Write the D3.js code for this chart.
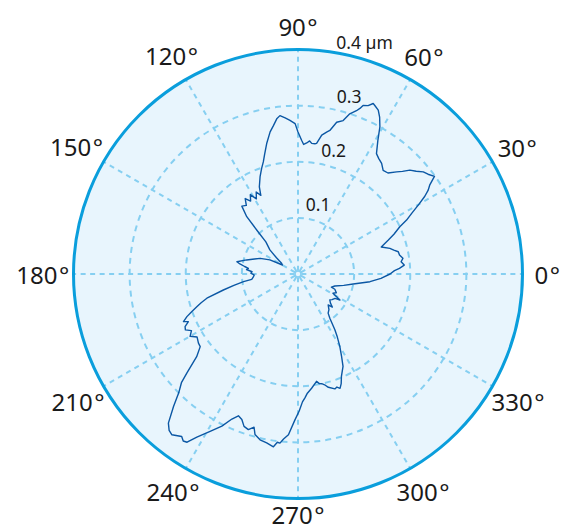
<!DOCTYPE html>
<html>
<head>
<meta charset="utf-8">
<script src="https://cdn.jsdelivr.net/npm/d3@7"></script>
<style>
  html, body { margin: 0; padding: 0; background: #ffffff; }
  svg { display: block; }
</style>
</head>
<body>
<svg id="chart" width="568" height="531"></svg>
<script>
// Polar trace: angle in degrees (counter-clockwise from east), radius in µm
const thetaDeg = [
  0, 2, 3.2, 4.8, 6.8, 8.5, 10.6, 12.5, 14, 15.6, 18, 20.6, 22.5, 24.9, 26.4, 28,
  30, 31.5, 32.8, 34, 35.6, 37.5, 39.2, 41, 42.9, 44.5, 46, 48.3, 50.6, 52.9, 55, 56.9,
  59.1, 60.9, 62.5, 63.9, 65.5, 66.2, 67.4, 68.9, 69.5, 70.3, 72.1, 73.6, 75.7, 77.5, 78.6, 80.3,
  81.9, 82.6, 84, 85, 86.2, 87.5, 88.4, 90, 91.1, 93, 94.7, 96.5, 97.8, 99.4, 101.1, 103.5,
  105.5, 107.2, 109, 111.3, 113.9, 115.3, 117, 119, 121, 123, 125, 127, 129.6, 131.8, 133.2, 135,
  139.4, 143, 146.7, 150, 153.4, 157.5, 161, 164.7, 168.7, 170.2, 172, 173.5, 175, 177.2, 179, 181.3,
  184, 186.6, 188, 190, 192.1, 194.9, 196.5, 197.9, 199.5, 201, 202.6, 203.5, 205, 206.4, 208, 210,
  212, 214.8, 216.6, 219.2, 221.7, 223, 224.9, 226.8, 229, 230.5, 231.9, 234.4, 235.5, 236.6, 238.2, 240.8,
  243.4, 245.5, 247.2, 248.9, 250.5, 252.3, 254, 255, 257.1, 259.5, 261.9, 263, 263.9, 265, 266.6, 268.8,
  270.5, 272, 273.2, 274.5, 276.8, 279.8, 281, 282.2, 283.5, 285, 287.8, 289, 290.2, 291.5, 293, 296,
  298, 300, 302, 303.5, 305.8, 307.6, 311, 314.3, 316, 318, 320.9, 323, 326.7, 328.2, 331.3, 334,
  337.5, 338.5, 342, 346, 349.8, 353.9, 357
];
const rhoMicron = [
  0.164, 0.172, 0.181, 0.190, 0.185, 0.189, 0.184, 0.183, 0.176, 0.170, 0.156, 0.172, 0.185, 0.200, 0.216, 0.229,
  0.249, 0.265, 0.276, 0.283, 0.299, 0.292, 0.288, 0.279, 0.272, 0.261, 0.253, 0.241, 0.239, 0.247, 0.251, 0.256,
  0.277, 0.300, 0.315, 0.325, 0.330, 0.332, 0.325, 0.322, 0.315, 0.309, 0.300, 0.285, 0.279, 0.262, 0.258, 0.251,
  0.235, 0.234, 0.234, 0.238, 0.234, 0.231, 0.238, 0.253, 0.268, 0.274, 0.279, 0.284, 0.279, 0.268, 0.258, 0.239,
  0.222, 0.209, 0.199, 0.186, 0.170, 0.155, 0.164, 0.153, 0.165, 0.155, 0.164, 0.153, 0.157, 0.137, 0.107, 0.081,
  0.066, 0.048, 0.035, 0.032, 0.056, 0.073, 0.082, 0.095, 0.111, 0.105, 0.096, 0.089, 0.092, 0.082, 0.084, 0.078,
  0.080, 0.083, 0.098, 0.116, 0.136, 0.168, 0.180, 0.189, 0.201, 0.212, 0.221, 0.213, 0.222, 0.224, 0.215, 0.222,
  0.212, 0.216, 0.217, 0.233, 0.265, 0.284, 0.300, 0.324, 0.352, 0.361, 0.364, 0.356, 0.361, 0.359, 0.342, 0.321,
  0.303, 0.284, 0.274, 0.278, 0.288, 0.291, 0.284, 0.296, 0.303, 0.306, 0.311, 0.302, 0.303, 0.295, 0.287, 0.260,
  0.244, 0.228, 0.221, 0.213, 0.205, 0.194, 0.199, 0.200, 0.203, 0.209, 0.215, 0.213, 0.217, 0.210, 0.198, 0.183,
  0.165, 0.149, 0.132, 0.119, 0.097, 0.088, 0.084, 0.077, 0.085, 0.078, 0.073, 0.076, 0.079, 0.088, 0.071, 0.076,
  0.071, 0.064, 0.069, 0.084, 0.100, 0.129, 0.148
];
const ringTicks = [0.1, 0.2, 0.3];
const ringLabels = ["0.1", "0.2", "0.3", "0.4 µm"];
const angleTicks = [0, 30, 60, 90, 120, 150, 180, 210, 240, 270, 300, 330];
const rMax = 0.4;

const W = 568, H = 531;
const svg = d3.select("#chart");
const cx = 298, cy = 274, R = 224.5;
const r = d3.scaleLinear().domain([0, rMax]).range([0, R]);
const toRad = d => d * Math.PI / 180;
// d3 radial angles run clockwise from 12 o'clock
const dAngle = deg => Math.PI / 2 - toRad(deg);

const g = svg.append("g").attr("transform", `translate(${cx},${cy})`);

// disc background
g.append("circle").attr("r", R).attr("fill", "#e8f5fd");

const gridColor = "#86cff1";

// radial spokes
g.selectAll("line.spoke").data(angleTicks).join("line")
  .attr("class", "spoke")
  .attr("x1", d => r(0.006) * Math.cos(toRad(d)))
  .attr("y1", d => -r(0.006) * Math.sin(toRad(d)))
  .attr("x2", d => R * Math.cos(toRad(d)))
  .attr("y2", d => -R * Math.sin(toRad(d)))
  .attr("stroke", gridColor)
  .attr("stroke-width", 2)
  .attr("stroke-dasharray", "5,4.5");

// small ring at the pole
g.append("circle").attr("r", 3).attr("fill", "none")
  .attr("stroke", gridColor).attr("stroke-width", 1.5);

// dashed rings
g.selectAll("circle.ring").data(ringTicks).join("circle")
  .attr("class", "ring")
  .attr("r", d => r(d))
  .attr("fill", "none")
  .attr("stroke", gridColor)
  .attr("stroke-width", 2)
  .attr("stroke-dasharray", "6,5");

// data trace
const pts = thetaDeg.map((t, i) => [t, rhoMicron[i]]);
const line = d3.lineRadial()
  .angle(d => dAngle(d[0]))
  .radius(d => r(d[1]))
  .curve(d3.curveLinearClosed);
g.append("path").datum(pts)
  .attr("d", line)
  .attr("fill", "none")
  .attr("stroke", "#0b57a4")
  .attr("stroke-width", 1.4)
  .attr("stroke-linejoin", "round");

// outer boundary
g.append("circle").attr("r", R).attr("fill", "none")
  .attr("stroke", "#0a9edc").attr("stroke-width", 3);

// radius labels
const labelAngle = toRad(74);
const ringVals = ringTicks.concat([rMax]);
g.selectAll("text.rlab").data(ringVals).join("text")
  .attr("class", "rlab")
  .attr("x", d => (r(d) + 17) * Math.cos(labelAngle))
  .attr("y", d => -(r(d) + 17) * Math.sin(labelAngle))
  .attr("text-anchor", "middle")
  .attr("dominant-baseline", "central")
  .attr("font-family", "'Noto Sans', sans-serif")
  .attr("font-size", 17.5)
  .attr("fill", "#1a1a1a")
  .text((d, i) => ringLabels[i]);

// angle labels, pushed out further where the text is wide
const aLab = g.selectAll("text.alab").data(angleTicks).join("text")
  .attr("class", "alab")
  .attr("text-anchor", "middle")
  .attr("dominant-baseline", "central")
  .attr("font-family", "'Noto Sans', sans-serif")
  .attr("font-size", 24)
  .attr("fill", "#1a1a1a");
aLab.append("tspan").text(d => String(d));
aLab.append("tspan").attr("dx", 1.5).text("°");
aLab.each(function (d) {
  const w = this.getComputedTextLength();
  const a = toRad(d);
  const s = Math.sin(a);
  const rr = 244 + 0.22 * w * Math.abs(Math.cos(a)) + (s > 0 ? 4 * s : -0.5 * s);
  const sel = d3.select(this)
    .attr("x", rr * Math.cos(a))
    .attr("y", -rr * s);
  // keep the label box inside the canvas
  const bb = this.getBBox();
  const over = cy + bb.y + bb.height - (H - 1);
  if (over > 0) sel.attr("y", -rr * s - over);
});
</script>
</body>
</html>
